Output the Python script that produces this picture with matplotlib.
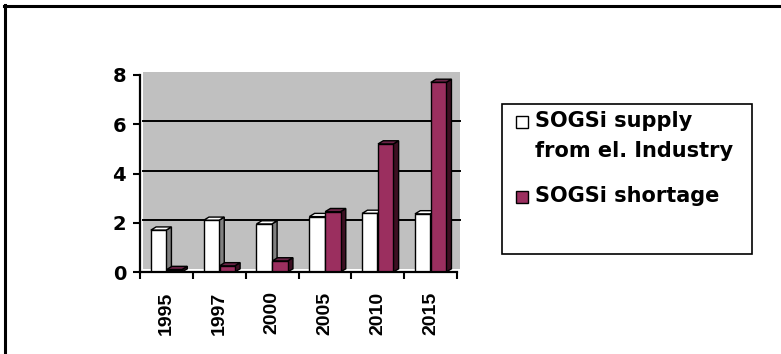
import matplotlib
matplotlib.use('Agg')
import matplotlib.pyplot as plt
from matplotlib.patches import Rectangle, Polygon
from matplotlib.lines import Line2D
from matplotlib.transforms import ScaledTranslation

years = ['1995', '1997', '2000', '2005', '2010', '2015']
supply = [1.7, 2.1, 1.95, 2.25, 2.38, 2.36]
shortage = [0.1, 0.25, 0.45, 2.45, 5.2, 7.7]
labels = ['SOGSi supply\nfrom el. Industry', 'SOGSi shortage']

W, H = 781, 354
PLUM = '#9b2f5f'
PLUM_SIDE = '#3d0f22'
PLUM_TOP = '#6b2346'
WALL = '#c0c0c0'

fig = plt.figure(figsize=(W / 100, H / 100), dpi=100)
fig.patch.set_facecolor('white')


def fx(px):
    return px / W


def fy(py):
    return 1 - py / H


ax = fig.add_axes([fx(140), fy(272), fx(457) - fx(140), fy(75) - fy(272)])
ax.set_facecolor('none')
ax.set_xlim(-0.5, len(years) - 0.5)
ax.set_ylim(0, 8)

# back wall and gridlines sit a few pixels behind the axis plane
depth = ScaledTranslation(3 / 100, 3 / 100, fig.dpi_scale_trans)
ax.add_patch(Rectangle((0, 0), 1, 1, transform=ax.transAxes + depth,
                       facecolor=WALL, edgecolor='none', zorder=0.5,
                       clip_on=False))
for v in [2, 4, 6]:
    ax.plot([0, 1], [v, v], color='black', lw=1.4,
            transform=ax.get_yaxis_transform() + depth,
            zorder=0.8, clip_on=False)

w = 0.29
dx, dy = 0.1, 0.13


def bars3d(xs, vals, face, side, top):
    rects = ax.bar(xs, vals, width=w, color=face, edgecolor='black',
                   linewidth=1.0, zorder=3)
    for r in rects:
        x0, h = r.get_x(), r.get_height()
        x1 = x0 + r.get_width()
        ax.add_patch(Polygon([(x1, 0), (x1 + dx, dy), (x1 + dx, h + dy), (x1, h)],
                             closed=True, facecolor=side, edgecolor='black',
                             linewidth=1.0, zorder=2.9))
        ax.add_patch(Polygon([(x0, h), (x0 + dx, h + dy), (x1 + dx, h + dy), (x1, h)],
                             closed=True, facecolor=top, edgecolor='black',
                             linewidth=1.0, zorder=2.9))


idx = list(range(len(years)))
bars3d([i - 0.15 for i in idx], supply, 'white', '#808080', 'white')
bars3d([i + 0.15 for i in idx], shortage, PLUM, PLUM_SIDE, PLUM_TOP)

for s in ['top', 'right']:
    ax.spines[s].set_visible(False)
for s in ['left', 'bottom']:
    ax.spines[s].set_linewidth(1.6)
    ax.spines[s].set_zorder(4)

ax.set_yticks([0, 2, 4, 6, 8])
ax.set_yticklabels(['0', '2', '4', '6', '8'], fontfamily='DejaVu Sans',
                   fontweight='bold', fontsize=14)
ax.tick_params(axis='y', direction='out', length=5, width=1.5, pad=5)

ax.set_xticks(idx)
ax.set_xticklabels(years, rotation=90, fontfamily='Liberation Sans',
                   fontweight='bold', fontsize=14)
ax.set_xticks([i - 0.5 for i in range(len(years) + 1)], minor=True)
ax.tick_params(axis='x', which='major', length=0, pad=14)
ax.tick_params(axis='x', which='minor', direction='out', length=5, width=1.5)

# legend box
fig.add_artist(Rectangle((fx(502), fy(254)), fx(752) - fx(502), fy(104) - fy(254),
                         transform=fig.transFigure, facecolor='white',
                         edgecolor='black', linewidth=1.2))
swatches = [('white', 122), (PLUM, 197)]
for (col, cy), lab in zip(swatches, labels):
    fig.add_artist(Rectangle((fx(516), fy(cy + 6)), fx(12), fy(0) - fy(12),
                             transform=fig.transFigure, facecolor=col,
                             edgecolor='black', linewidth=1.0))
    fig.text(fx(535), fy(cy - 11), lab, ha='left', va='top',
             fontfamily='DejaVu Sans', fontweight='bold', fontsize=15,
             linespacing=1.6)

# outer frame, top and left edges
fig.add_artist(Line2D([fx(4), 1], [fy(6), fy(6)], color='black', lw=2.2,
                      transform=fig.transFigure))
fig.add_artist(Line2D([fx(5), fx(5)], [fy(5), 0], color='black', lw=2.2,
                      transform=fig.transFigure))

fig.savefig('out.png', dpi=100)
